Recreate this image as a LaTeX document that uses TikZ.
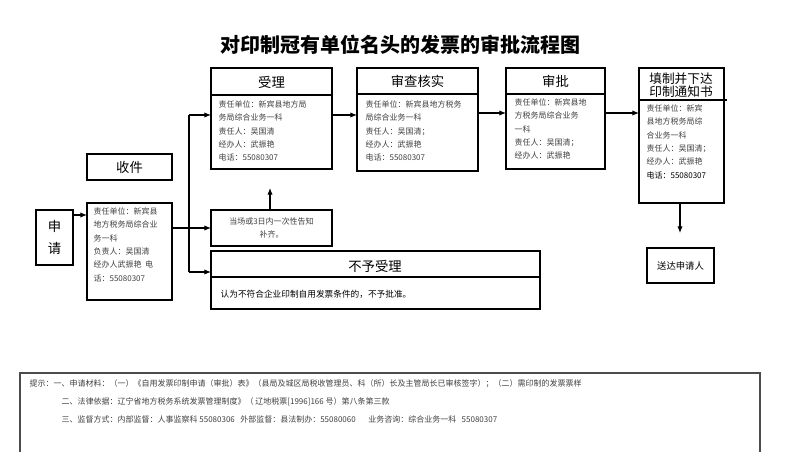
\documentclass[tikz,border=0pt]{standalone}
\usepackage{fontspec}
\setmainfont{Noto Sans CJK SC}
\usetikzlibrary{arrows.meta}
\begin{document}
\begin{tikzpicture}[x=0.75pt,y=-0.75pt,
  bx/.style={draw,line width=0.8pt},
  arr/.style={-{Latex[length=5pt,width=4pt]},line width=0.8pt},
  sm/.style={anchor=north west,align=left,font=\fontsize{6}{10}\selectfont,text=black!75,inner sep=1pt},
  hd/.style={font=\fontsize{10}{11}\selectfont}]
\useasboundingbox (0,0) rectangle (800,452);
\node[font=\bfseries\fontsize{15}{16}\selectfont] (title) at (400,45) {对印制冠有单位名头的发票的审批流程图};
% apply
\draw[bx] (36,210) rectangle (73,265);
\node[hd,align=center] (sq) at (54.5,237.5) {申\\[5pt]请};
\draw[bx] (87,154) rectangle (172,180);
\node[hd] (sj) at (129.5,167) {收件};
\draw[bx] (87,203) rectangle (172,300);
\coordinate (infoL) at (87,215);
\coordinate (infoR) at (172,228);
\node[sm] (info) at (92,206) {责任单位：新宾县\\地方税务局综合业\\务一科\\负责人：吴国清\\经办人武振艳\ \ 电\\话：55080307};
% 受理
\draw[bx] (211,68) rectangle (332,169); \draw[line width=0.8pt] (211,95)--(332,95);
\node[hd] (sl) at (271.5,82) {受理};
\node[sm] (slt) at (217,99) {责任单位：新宾县地方局\\务局综合业务一科\\责任人：吴国清\\经办人：武振艳\\电话：55080307};
% 审查
\draw[bx] (357,68) rectangle (478,171); \draw[line width=0.8pt] (357,94)--(478,94);
\node[hd] (sc) at (417.5,81) {审查核实};
\node[sm] (sct) at (364,99) {责任单位：新宾县地方税务\\局综合业务一科\\责任人：吴国清；\\经办人：武振艳\\电话：55080307};
% 审批
\draw[bx] (506,68) rectangle (605,169); \draw[line width=0.8pt] (506,94)--(605,94);
\node[hd] (sp) at (555.5,81) {审批};
\node[sm] (spt) at (513,97) {责任单位：新宾县地\\方税务局综合业务\\一科\\责任人：吴国清；\\经办人：武振艳};
% 填制
\draw[bx] (639,68) rectangle (724,203); \draw[line width=0.8pt] (639,100)--(727,100);
\node[hd,align=left,font=\fontsize{9.5}{10}\selectfont] (tz) at (681,85) {填制并下达\\印制通知书};
\node[sm] (tzt) at (645,103) {责任单位：新宾\\县地方税务局综\\合业务一科\\责任人：吴国清；\\经办人：武振艳\\{\color{black}电话：55080307}};
\draw[bx] (647,248) rectangle (714,283);
\node[font=\fontsize{7}{8}\selectfont] (sd) at (680.5,265.5) {送达申请人};
% 当场
\draw[bx] (211,210) rectangle (332,246);
\node[sm,align=center,anchor=center] (dc) at (271.5,228) {当场或3日内一次性告知\\补齐。};
% 不予受理
\draw[bx] (211,251) rectangle (540,309); \draw[line width=0.8pt] (211,277)--(540,277);
\node[hd] (by) at (375,266) {不予受理};
\node[font=\fontsize{6.5}{8}\selectfont,anchor=west] (byt) at (216,294) {认为不符合企业印制自用发票条件的，不予批准。};
% bottom
\draw[line width=0.8pt,draw=black!70] (20,452) -- (20,373) -- (760,373) -- (760,452);
\node[sm,font=\fontsize{6}{13.5}\selectfont] (ts) at (28,378) {提示：一、申请材料：（一）《自用发票印制申请（审批）表》（县局及城区局税收管理员、科（所）长及主管局长已审核签字）；（二）需印制的发票票样\\\hspace*{24pt}二、法律依据：辽宁省地方税务系统发票管理制度》（ 辽地税票[1996]166 号）第八条第三款\\\hspace*{24pt}三、监督方式：内部监督：人事监察科 55080306\ \ \ 外部监督：县法制办：55080060\ \ \ \ \ \ \ 业务咨询：综合业务一科\ \ \ 55080307};
% arrows
\coordinate (t1) at (189,115); \coordinate (t2) at (189,272);
\draw[arr] (73,215) -- (infoL);
\draw[line width=0.8pt] (t1) -- (t2);
\draw[arr] (infoR) -- (211,228);
\draw[arr] (t1) -- (211,115);
\draw[arr] (t2) -- (211,272);
\draw[arr] (270,210) -- (270,188);
\draw[arr] (332,115) -- (357,115);
\draw[arr] (478,113) -- (506,113);
\draw[arr] (605,113) -- (639,113);
\draw[arr] (680,203) -- (680,233);
\end{tikzpicture}
\end{document}
